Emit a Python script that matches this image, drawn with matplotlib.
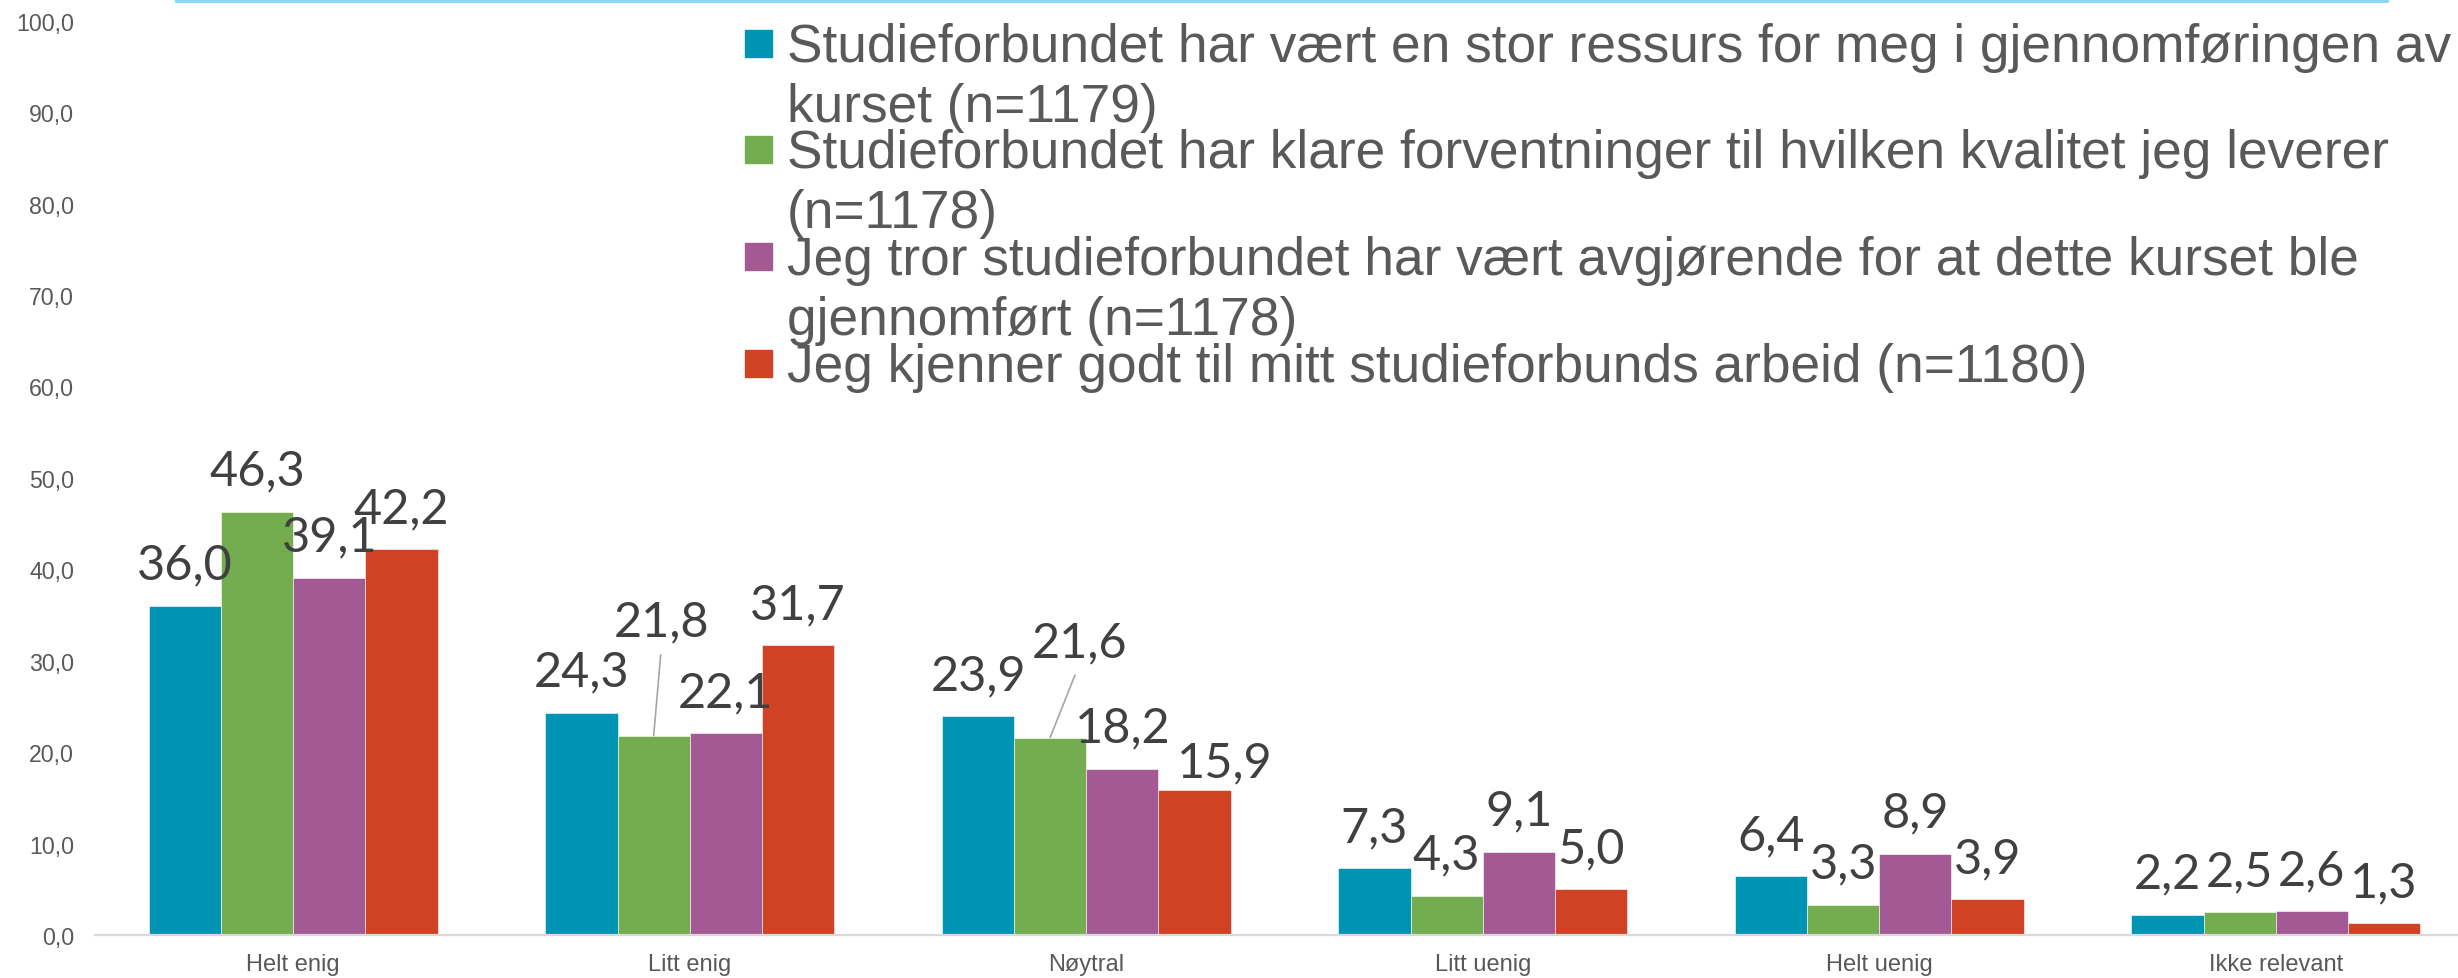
import matplotlib
matplotlib.use("Agg")
import matplotlib.pyplot as plt
from matplotlib.patches import Rectangle
from matplotlib.lines import Line2D
import numpy as np

categories = ["Helt enig", "Litt enig", "Nøytral", "Litt uenig", "Helt uenig", "Ikke relevant"]

ressurs = [36.0, 24.3, 23.9, 7.3, 6.4, 2.2]
forventninger = [46.3, 21.8, 21.6, 4.3, 3.3, 2.5]
avgjorende = [39.1, 22.1, 18.2, 9.1, 8.9, 2.6]
kjenner = [42.2, 31.7, 15.9, 5.0, 3.9, 1.3]

series_labels = [
    ["Studieforbundet har vært en stor ressurs for meg i gjennomføringen av", "kurset (n=1179)"],
    ["Studieforbundet har klare forventninger til hvilken kvalitet jeg leverer", "(n=1178)"],
    ["Jeg tror studieforbundet har vært avgjørende for at dette kurset ble", "gjennomført (n=1178)"],
    ["Jeg kjenner godt til mitt studieforbunds arbeid (n=1180)"],
]

yticks = np.arange(0, 101, 10)

colors = ["#0094B4", "#74AC50", "#A25994", "#D04224"]

W, H = 2458, 979
fig = plt.figure(figsize=(W / 100, H / 100), dpi=100)

# axes placed in pixel terms (from top-left)
left_px, right_px = 95, 2474
top_px, bottom_px = 21.7, 936
ax = fig.add_axes([left_px / W, 1 - bottom_px / H,
                   (right_px - left_px) / W, (bottom_px - top_px) / H])

all_series = [ressurs, forventninger, avgjorende, kjenner]
x = np.arange(len(categories))
bw = 0.182

# special label placements: (category, series) -> (dx px, gap px above bar top, leader)
special = {
    (1, 1): (8, 100, True),
    (2, 1): (29, 81, True),
    (2, 3): (30, 13, False),
}

for i, vals in enumerate(all_series):
    pos = x + (i - 1.5) * bw
    ax.bar(pos, vals, width=bw, color=colors[i], edgecolor="white", linewidth=0.4)
    for c, (px, v) in enumerate(zip(pos, vals)):
        dx, gap, leader = special.get((c, i), (0, 27, False))
        txt = f"{v:.1f}".replace(".", ",")
        if leader:
            ax.annotate(txt, xy=(px, v), xytext=(dx, gap), textcoords="offset pixels",
                        ha="center", va="baseline", fontsize=35, family="Lato",
                        color="#404040",
                        arrowprops=dict(arrowstyle="-", color="#a6a6a6", lw=1.2,
                                        relpos=(0.5, 0), shrinkA=6, shrinkB=0))
        else:
            ax.annotate(txt, xy=(px, v), xytext=(dx, gap), textcoords="offset pixels",
                        ha="center", va="baseline", fontsize=35, family="Lato",
                        color="#404040")

ax.set_xlim(-0.5, 5.5)
ax.set_ylim(0, 100)
ax.set_yticks(yticks)
ax.set_yticklabels([f"{t:.1f}".replace(".", ",") for t in yticks],
                   fontsize=16.7, family="Liberation Sans", color="#595959")
ax.set_xticks(x)
ax.set_xticklabels(categories, fontsize=17, family="Liberation Sans", color="#595959")
ax.tick_params(axis="y", length=0, pad=15)
ax.tick_params(axis="x", length=0, pad=13)
for s in ["top", "right", "left"]:
    ax.spines[s].set_visible(False)
ax.spines["bottom"].set_color("#d9d9d9")
ax.spines["bottom"].set_linewidth(1.6)
ax.set_facecolor("none")

# legend drawn by hand: square marker + wrapped lines
entry_base = [62, 168, 275, 382]
line_step = 60
for i, lines in enumerate(series_labels):
    b = entry_base[i]
    fig.patches.append(Rectangle((745 / W, 1 - (b - 4) / H), 27 / W, 27 / H,
                                 transform=fig.transFigure, color=colors[i]))
    for k, ln in enumerate(lines):
        fig.text(787 / W, 1 - (b + k * line_step) / H, ln, fontsize=38.3,
                 family="Liberation Sans", color="#595959", va="baseline", ha="left")

# thin cyan rule along the top
fig.add_artist(Line2D([177 / W, 2387 / W], [1 - 1.5 / H, 1 - 1.5 / H],
                      transform=fig.transFigure, color="#87D7EE", lw=2.8))

fig.savefig("out.png", dpi=100)
